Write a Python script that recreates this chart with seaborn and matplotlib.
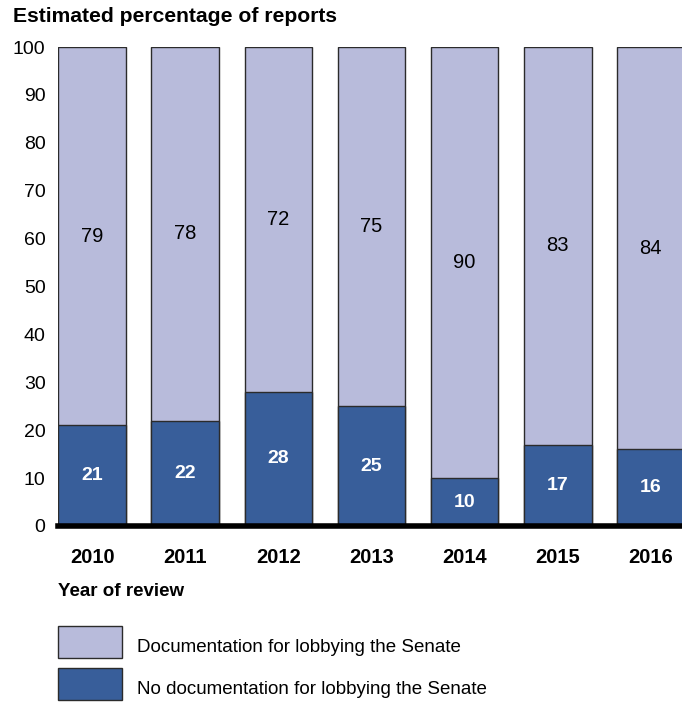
import matplotlib
matplotlib.use("Agg")
import matplotlib.pyplot as plt
import seaborn as sns
import pandas as pd
from matplotlib.patches import Rectangle

years = ["2010", "2011", "2012", "2013", "2014", "2015", "2016"]
with_doc = [79, 78, 72, 75, 90, 83, 84]
no_doc = [21, 22, 28, 25, 10, 17, 16]
series_labels = ["Documentation for lobbying the Senate",
                 "No documentation for lobbying the Senate"]
y_ticks = [0, 10, 20, 30, 40, 50, 60, 70, 80, 90, 100]

light = "#B8BBDB"
dark = "#385E9A"
edge = "#2b2b2b"

sns.set_theme(style="white")
plt.rcParams["font.family"] = ["Liberation Sans", "DejaVu Sans"]
plt.rcParams["text.color"] = "black"
plt.rcParams["xtick.color"] = "black"
plt.rcParams["ytick.color"] = "black"

df = pd.DataFrame({"year": years, "with_doc": with_doc, "no_doc": no_doc})
df["total"] = df["with_doc"] + df["no_doc"]

W, H = 682, 702
fig = plt.figure(figsize=(W / 100, H / 100), dpi=100)
ax = fig.add_axes([58 / W, 176 / H, 627 / W, 479 / H])

sns.barplot(data=df, x="year", y="total", color=light, edgecolor=edge,
            linewidth=1.0, width=0.73, saturation=1, ax=ax)
sns.barplot(data=df, x="year", y="no_doc", color=dark, edgecolor=edge,
            linewidth=1.0, width=0.73, saturation=1, ax=ax)

for i, (a, b) in enumerate(zip(no_doc, with_doc)):
    ax.text(i, a / 2, str(a), ha="center", va="center", color="white",
            fontsize=14, fontweight="bold")
    ax.text(i, a + b / 2, str(b), ha="center", va="center", color="black",
            fontsize=14.5)

ax.set_xlim(-0.37, 6.37)
ax.set_ylim(0, 100)
ax.set_yticks(y_ticks)
ax.set_yticklabels([str(t) for t in y_ticks], fontsize=14)
ax.tick_params(axis="y", length=0, pad=9)
ax.tick_params(axis="x", length=0, pad=16, labelsize=14.5)
for lbl in ax.get_xticklabels():
    lbl.set_fontweight("bold")
ax.set_xlabel("")
ax.set_ylabel("")
for s in ["top", "right", "left"]:
    ax.spines[s].set_visible(False)
ax.spines["bottom"].set_linewidth(4)
ax.spines["bottom"].set_color("black")

fig.text(13 / W, 1 - 17 / H, "Estimated percentage of reports",
         fontsize=15.2, fontweight="bold", ha="left", va="center")
fig.text(58 / W, 1 - 592 / H, "Year of review", fontsize=13.5,
         fontweight="bold", ha="left", va="center")

# legend
legend_rows = [(626, light), (668, dark)]
for (top, col), label in zip(legend_rows, series_labels):
    fig.add_artist(Rectangle((58 / W, 1 - (top + 32) / H), 64 / W, 32 / H,
                             transform=fig.transFigure, facecolor=col,
                             edgecolor=edge, linewidth=1.0))
    fig.text(137 / W, 1 - (top + 22) / H, label, fontsize=13.5,
             ha="left", va="center")

fig.savefig("out.png", dpi=100)
